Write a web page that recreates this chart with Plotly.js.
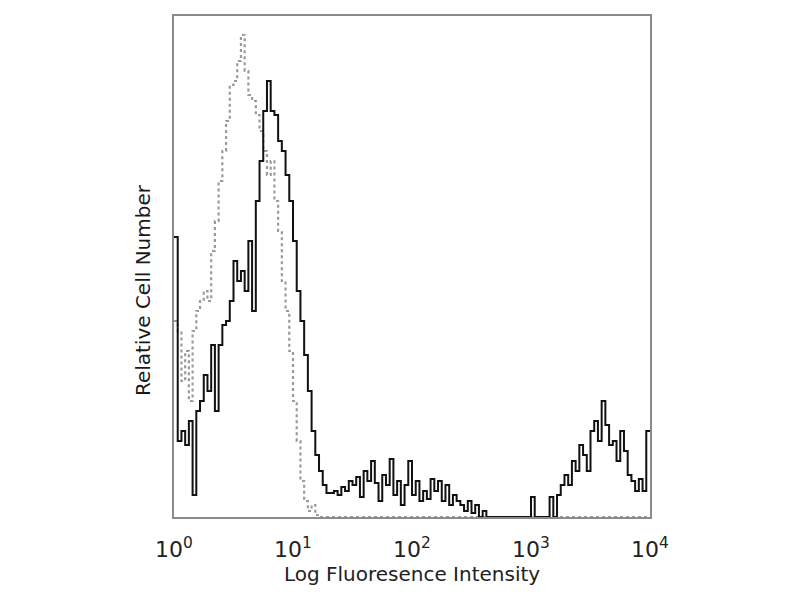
<!DOCTYPE html>
<html>
<head>
<meta charset="utf-8">
<script src="https://cdn.plot.ly/plotly-3.0.1.min.js"></script>
<style>html,body{margin:0;padding:0;background:#fff;}#chart{width:800px;height:600px;}</style>
</head>
<body>
<div id="chart"></div>
<script>
// 128 log-spaced channels over 4 decades (10^0 .. 10^4)
const nChannels = 128;
const decades = 4;
const stainedCounts = [
 140,38,43,36,48,11,53,58,71,63,86,53,86,96,98,108,
 128,118,123,113,138,103,158,178,203,218,203,201,188,183,171,158,
 138,113,98,81,63,43,31,23,16,12,12,13,11,15,13,18,
 16,20,10,23,18,28,17,8,21,16,29,11,18,6,16,28,
 11,18,8,13,9,19,13,18,8,16,6,11,8,6,3,8,
 2,6,0,3,0,0,0,0,0,0,0,0,0,0,0,0,
 10,0,0,0,0,10,0,11,16,21,16,28,23,36,31,23,
 43,48,38,58,46,36,38,28,43,33,21,18,13,19,13,43
];
const controlCounts = [
 98,93,68,83,58,93,103,108,113,108,133,148,168,183,198,216,
 218,228,241,223,211,208,201,193,183,171,178,158,143,118,103,83,
 58,38,18,8,3,6,1,0,0,0,0,0,0,0,0,0,
 0,0,0,0,0,0,0,0,0,0,0,0,0,0,0,0,
 0,0,0,0,0,0,0,0,0,0,0,0,0,0,0,0,
 0,0,0,0,0,0,0,0,0,0,0,0,0,0,0,0,
 0,0,0,0,0,0,0,0,0,0,0,0,0,0,0,0,
 0,0,0,0,0,0,0,0,0,0,0,0,0,0,0,0
];
const tickValues = [1, 10, 100, 1000, 10000];
const tickLabels = ["10<sup>0</sup>", "10<sup>1</sup>", "10<sup>2</sup>", "10<sup>3</sup>", "10<sup>4</sup>"];
const xTitle = 'Log Fluoresence Intensity';
const yTitle = 'Relative Cell Number';

// channel edges (intensity) for step drawing
function edges(counts) {
  const xs = [], ys = [];
  for (let i = 0; i < counts.length; i++) {
    xs.push(Math.pow(10, i * decades / nChannels));
    ys.push(counts[i]);
  }
  xs.push(Math.pow(10, decades));
  ys.push(counts[counts.length - 1]);
  return {x: xs, y: ys};
}
const ctl = edges(controlCounts);
const stn = edges(stainedCounts);

const traces = [
  {x: ctl.x, y: ctl.y, type: 'scatter', mode: 'lines', line: {shape: 'hv', color: '#9a9a9a', width: 2.2, dash: 'dot'}, hoverinfo: 'skip'},
  {x: stn.x, y: stn.y, type: 'scatter', mode: 'lines', line: {shape: 'hv', color: '#111111', width: 2}, hoverinfo: 'skip'}
];

const layout = {
  width: 800, height: 600,
  margin: {l: 174, r: 150, t: 16, b: 83},
  paper_bgcolor: '#fff', plot_bgcolor: '#fff',
  showlegend: false,
  font: {family: 'DejaVu Sans, sans-serif', color: '#222'},
  xaxis: {
    type: 'log', range: [0, 4],
    tickvals: tickValues, ticktext: tickLabels,
    tickfont: {size: 22, color: '#222'},
    ticks: 'outside', ticklen: 12, tickcolor: 'rgba(0,0,0,0)',
    showgrid: false, zeroline: false,
    showline: true, mirror: true, linecolor: '#8a8a8a', linewidth: 2,
    title: {text: xTitle, font: {size: 20, color: '#222'}, standoff: 6}
  },
  yaxis: {
    range: [0, 250.5],
    showticklabels: false, ticks: '', showgrid: false, zeroline: false,
    showline: true, mirror: true, linecolor: '#8a8a8a', linewidth: 2
  },
  annotations: [{
    text: yTitle, xref: 'paper', yref: 'paper', x: -0.065, y: 0.453,
    xanchor: 'center', yanchor: 'middle', textangle: -90, showarrow: false,
    font: {size: 20, color: '#1a1a1a', family: 'DejaVu Sans, sans-serif'}
  }]
};

Plotly.newPlot('chart', traces, layout, {displayModeBar: false, staticPlot: true});
</script>
</body>
</html>
